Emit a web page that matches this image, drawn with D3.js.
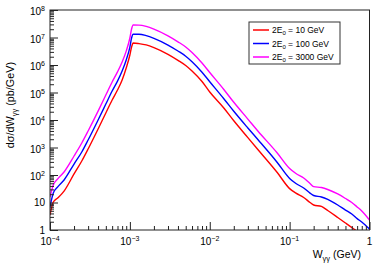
<!DOCTYPE html>
<html>
<head>
<meta charset="utf-8">
<script src="https://cdn.jsdelivr.net/npm/d3@7"></script>
<style>
  body { margin: 0; background: #fff; }
  svg { display: block; font-family: "Liberation Sans", Arial, sans-serif; }
  .frame { fill: none; stroke: #222; stroke-width: 1; }
  .axis path { display: none; }
  .axis line { stroke: #222; stroke-width: 1; }
  .curve { fill: none; stroke-width: 1.4; stroke-linejoin: round; }
</style>
</head>
<body>
<div id="chart"></div>
<script>
// W_gg values (GeV)
var wValues = [1e-4, 1.1e-4, 1.25e-4, 1.5e-4, 2e-4, 2.5e-4, 3e-4, 4e-4, 5e-4, 6e-4,
  7e-4, 8e-4, 9e-4, 1.0e-3, 1.05e-3, 1.1e-3, 1.3e-3, 1.6e-3, 2e-3, 3e-3, 4e-3,
  5e-3, 6e-3, 8e-3, 1e-2, 1.5e-2, 2e-2, 3e-2, 4e-2, 7e-2, 0.1, 0.12, 0.15, 0.18,
  0.2, 0.25, 0.3, 0.4, 0.5, 0.6, 0.7, 0.8, 1.0];

// dsigma/dW (pb/GeV) for each beam energy
var sigma10 = [3.5, 10.4, 14.6, 26, 109, 323, 881, 4710, 1.8e4, 5.33e4,
  1.23e5, 2.85e5, 7.8e5, 2.31e6, 4.5e6, 6.3e6, 6.0e6, 5.38e6, 4.3e6, 2.45e6, 1.48e6,
  9.6e5, 6.05e5, 2.51e5, 1.04e5, 2.73e4, 9350, 2290, 846, 123, 32, 22, 15.2, 10,
  8.1, 7.2, 5.1, 2.85, 1.8, 1.23, 0.88, 0.66, 0.37];

var sigma100 = [6.9, 22, 37, 66, 251, 686, 1875, 1.0e4, 3.8e4, 1.13e5,
  2.6e5, 6.05e5, 1.52e6, 4.5e6, 9.6e6, 1.31e7, 1.31e7, 1.17e7, 9.35e6, 5.33e6, 3.23e6,
  2.09e6, 1.32e6, 5.47e5, 2.47e5, 5.95e4, 2.07e4, 5120, 1950, 285, 75, 49, 33.7, 22,
  18, 15.8, 12.9, 8.1, 5.3, 3.8, 2.6, 1.95, 1.09];

var sigma3000 = [15.8, 43, 72, 129, 491, 1460, 3980, 2.1e4, 8.1e4, 2.41e5,
  5.6e5, 1.29e6, 3.2e6, 9.6e6, 2.04e7, 2.85e7, 2.83e7, 2.53e7, 2.02e7, 1.15e7, 6.98e6,
  4.52e6, 2.85e6, 1.18e6, 5.33e5, 1.29e5, 4.4e4, 1.08e4, 3980, 631, 172, 113, 78, 49,
  38, 35, 29.7, 20.4, 14, 10, 6.9, 4.9, 2.3];

var seriesNames = ["10", "100", "3000"];
var seriesColors = ["#ff0000", "#0000ff", "#ff00ff"];

var xMajorTicks = [1e-4, 1e-3, 1e-2, 1e-1, 1];
var xTickExps = ["-4", "-3", "-2", "-1", ""];
var yMajorTicks = [1, 10, 1e2, 1e3, 1e4, 1e5, 1e6, 1e7, 1e8];
var yTickExps = ["", "", "2", "3", "4", "5", "6", "7", "8"];

var width = 380, height = 267;
var margins = { top: 10, right: 10.5, bottom: 37, left: 50 };
var chartWidth = width - margins.left - margins.right;
var chartHeight = height - margins.top - margins.bottom;

var svg = d3.select("#chart").append("svg")
  .attr("width", width)
  .attr("height", height);

var chart = svg.append("g")
  .attr("transform", "translate(" + margins.left + "," + margins.top + ")");

var xScale = d3.scaleLog().domain([1e-4, 1]).range([0, chartWidth]);
var yScale = d3.scaleLog().domain([1, 1e8]).range([chartHeight, 0]);

// minor ticks 2..9 per decade
function minorTicks(lo, hi) {
  var out = [];
  for (var e = lo; e < hi; e++) {
    for (var k = 2; k <= 9; k++) out.push(k * Math.pow(10, e));
  }
  return out;
}

chart.append("defs").append("clipPath").attr("id", "clip")
  .append("rect").attr("width", chartWidth).attr("height", chartHeight);

// curves
var series = [sigma10, sigma100, sigma3000];
var line = d3.line()
  .x(d => xScale(d[0]))
  .y(d => yScale(d[1]))
  .curve(d3.curveMonotoneX);

chart.append("g").attr("clip-path", "url(#clip)")
  .selectAll("path")
  .data(series)
  .enter()
  .append("path")
  .attr("class", "curve")
  .attr("stroke", (d, i) => seriesColors[i])
  .attr("d", d => line(d.map((v, j) => [wValues[j], v])));

// axes, ticks pointing inward
chart.append("g").attr("class", "axis")
  .attr("transform", "translate(0," + chartHeight + ")")
  .call(d3.axisBottom(xScale).tickValues(xMajorTicks).tickSize(-8).tickFormat(""));
chart.append("g").attr("class", "axis")
  .attr("transform", "translate(0," + chartHeight + ")")
  .call(d3.axisBottom(xScale).tickValues(minorTicks(-4, 0)).tickSize(-4).tickFormat(""));
chart.append("g").attr("class", "axis")
  .call(d3.axisLeft(yScale).tickValues(yMajorTicks).tickSize(-8).tickFormat(""));
chart.append("g").attr("class", "axis")
  .call(d3.axisLeft(yScale).tickValues(minorTicks(0, 8)).tickSize(-4).tickFormat(""));

chart.append("rect").attr("class", "frame")
  .attr("x", 0).attr("y", 0)
  .attr("width", chartWidth).attr("height", chartHeight);

// x tick labels
var xLabels = chart.append("g").attr("font-size", 10).attr("fill", "#000")
  .selectAll("text")
  .data(xMajorTicks)
  .enter()
  .append("text")
  .attr("x", d => xScale(d))
  .attr("y", chartHeight + 15)
  .attr("text-anchor", "middle");
xLabels.append("tspan").text((d, i) => xTickExps[i] ? "10" : "1");
xLabels.append("tspan")
  .attr("font-size", 7).attr("dy", -4)
  .text((d, i) => xTickExps[i] ? "\u2212" + xTickExps[i].slice(1) : "");

// y tick labels
var yLabels = chart.append("g").attr("font-size", 10).attr("fill", "#000")
  .selectAll("text")
  .data(yMajorTicks)
  .enter()
  .append("text")
  .attr("x", -5)
  .attr("y", (d, i) => yScale(d) + (yTickExps[i] ? 5 : 3.5))
  .attr("text-anchor", "end");
yLabels.append("tspan").text(d => d == 1 ? "1" : "10");
yLabels.append("tspan")
  .attr("font-size", 7).attr("dy", -4)
  .text((d, i) => yTickExps[i]);

// axis titles
var xTitle = svg.append("text")
  .attr("x", 361).attr("y", 258)
  .attr("text-anchor", "end").attr("font-size", 10.5);
xTitle.append("tspan").text("W");
xTitle.append("tspan").attr("font-size", 7.5).attr("dy", 3).text("\u03b3\u03b3");
xTitle.append("tspan").attr("dy", -3).text(" (GeV)");

var yTitle = svg.append("text")
  .attr("transform", "translate(14,62) rotate(-90)")
  .attr("text-anchor", "end").attr("font-size", 10.8);
yTitle.append("tspan").text("d\u03c3/dW");
yTitle.append("tspan").attr("font-size", 7.5).attr("dy", 3).text("\u03b3\u03b3");
yTitle.append("tspan").attr("dy", -3).text(" (pb/GeV)");

// legend
var legend = svg.append("g").attr("transform", "translate(249,22)");
legend.append("rect")
  .attr("width", 91).attr("height", 42)
  .attr("fill", "#fff").attr("stroke", "#333").attr("stroke-width", 1);

var rows = legend.selectAll("g.row")
  .data(seriesNames)
  .enter()
  .append("g")
  .attr("class", "row")
  .attr("transform", (d, i) => "translate(0," + (8 + i * 13.5) + ")");

rows.append("line")
  .attr("x1", 4).attr("x2", 20)
  .attr("stroke", (d, i) => seriesColors[i])
  .attr("stroke-width", 1.5);

var rowText = rows.append("text")
  .attr("x", 23).attr("y", 3)
  .attr("font-size", 8.5);
rowText.append("tspan").text("2E");
rowText.append("tspan").attr("font-size", 6).attr("dy", 2).text("0");
rowText.append("tspan").attr("dy", -2).text(d => " = " + d + " GeV");
</script>
</body>
</html>
